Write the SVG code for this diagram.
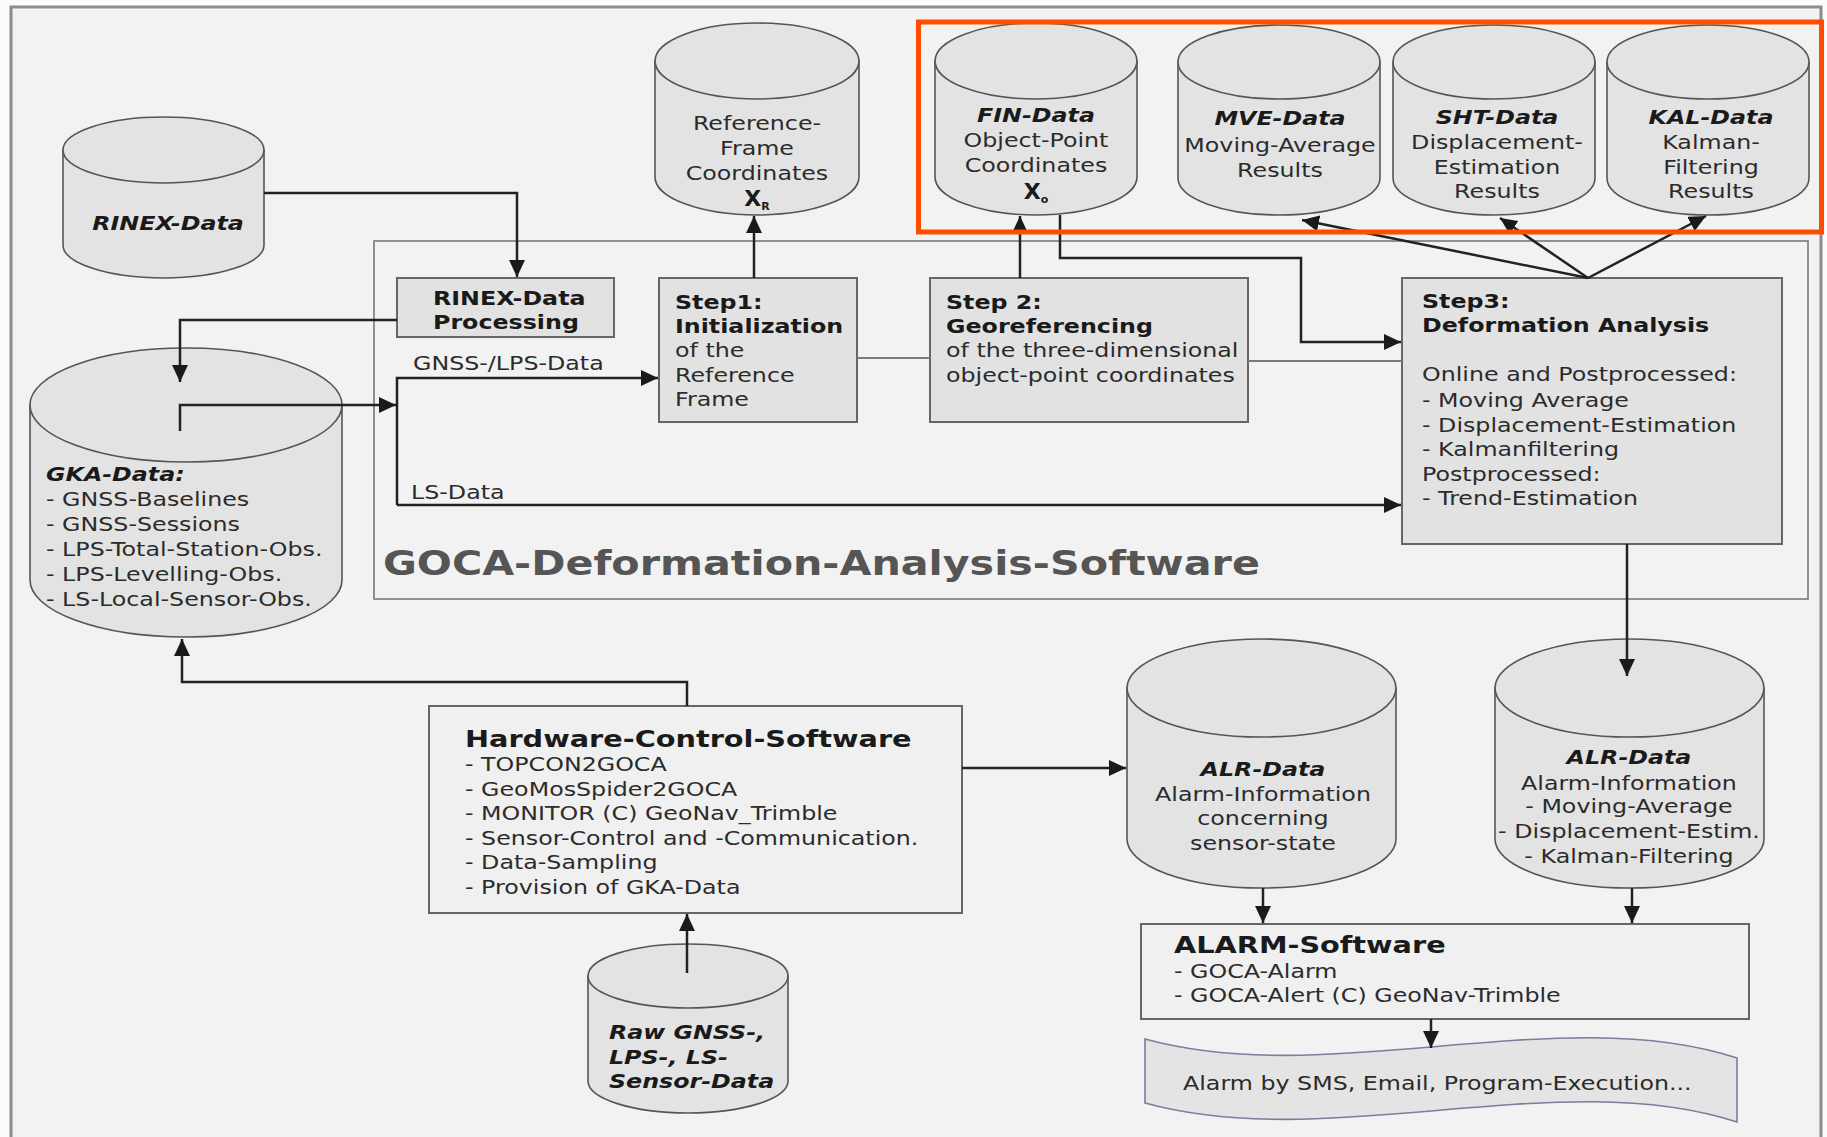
<svg xmlns="http://www.w3.org/2000/svg" width="1827" height="1137" viewBox="0 0 1827 1137">
<defs>
<marker id="ah" viewBox="0 0 17 16" refX="17" refY="8" markerWidth="17" markerHeight="16" markerUnits="userSpaceOnUse" orient="auto"><path d="M0,0 L17,8 L0,16 z" fill="#1a1a1a"/></marker>
<style>
text{font-family:"DejaVu Sans",Verdana,sans-serif;font-size:19px;fill:#2b2b2b}
.b{font-weight:bold;fill:#1a1a1a}
.bi{font-weight:bold;font-style:italic;fill:#1a1a1a}
.c{text-anchor:middle}
.box{fill:#e2e2e2;stroke:#666;stroke-width:2}
.boxl{fill:#f0f0f0;stroke:#666;stroke-width:2}
.cyl{fill:#e3e3e3;stroke:#555;stroke-width:1.6}
.ln{fill:none;stroke:#222;stroke-width:2.5}
.gl{fill:none;stroke:#7a7a7a;stroke-width:2}
.big{font-size:23px}
.ttl{font-size:33px;font-weight:bold;fill:#555}
.sub{font-size:11px;font-weight:bold}
.xv{font-size:22px;font-weight:bold;fill:#1a1a1a}
</style>
</defs>
<rect x="0" y="0" width="1827" height="1137" fill="#fbfbfb"/>
<path d="M11,1140 V7 H1821 V1140 Z" fill="#f2f2f2" stroke="#8c8c8c" stroke-width="3"/>

<g id="goca-frame">
<rect x="374" y="241" width="1434" height="358" fill="none" stroke="#777" stroke-width="1.6"/>
<g transform="matrix(1.25 0 0 1 -95.75 0)"><text class="ttl" x="383" y="575">GOCA-Deformation-Analysis-Software</text></g>
</g>

<g id="rinex-data">
<path class="cyl" d="M63,150 V245 A100.5,33 0 0 0 264,245 V150 Z"/>
<ellipse class="cyl" cx="163.5" cy="150" rx="100.5" ry="33"/>
<g transform="matrix(1.25 0 0 1 -42 0)"><text class="bi c" x="168" y="230">RINEX-Data</text></g>
</g>

<g id="ref-frame">
<path class="cyl" d="M655,61 V177 A102,38 0 0 0 859,177 V61 Z"/>
<ellipse class="cyl" cx="757" cy="61" rx="102" ry="38"/>
<g transform="matrix(1.25 0 0 1 -189.25 0)">
<text class="c" x="757" y="130">Reference-</text>
<text class="c" x="757" y="155">Frame</text>
<text class="c" x="757" y="180">Coordinates</text>
</g>
<text class="xv c" x="757" y="206">X<tspan class="sub" dy="4">R</tspan></text>
</g>

<g id="fin-data">
<path class="cyl" d="M935,61 V177 A101,38 0 0 0 1137,177 V61 Z"/>
<ellipse class="cyl" cx="1036" cy="61" rx="101" ry="38"/>
<g transform="matrix(1.25 0 0 1 -259 0)">
<text class="bi c" x="1036" y="122">FIN-Data</text>
<text class="c" x="1036" y="147">Object-Point</text>
<text class="c" x="1036" y="172">Coordinates</text>
</g>
<text class="xv c" x="1036" y="199">X<tspan class="sub" dy="4">o</tspan></text>
</g>

<g id="mve-data">
<path class="cyl" d="M1178,62 V178 A101,37 0 0 0 1380,178 V62 Z"/>
<ellipse class="cyl" cx="1279" cy="62" rx="101" ry="37"/>
<g transform="matrix(1.25 0 0 1 -320 0)">
<text class="bi c" x="1280" y="125">MVE-Data</text>
<text class="c" x="1280" y="152">Moving-Average</text>
<text class="c" x="1280" y="177">Results</text>
</g>
</g>

<g id="sht-data">
<path class="cyl" d="M1393,62 V178 A101,37 0 0 0 1595,178 V62 Z"/>
<ellipse class="cyl" cx="1494" cy="62" rx="101" ry="37"/>
<g transform="matrix(1.25 0 0 1 -374.25 0)">
<text class="bi c" x="1497" y="124">SHT-Data</text>
<text class="c" x="1497" y="149">Displacement-</text>
<text class="c" x="1497" y="174">Estimation</text>
<text class="c" x="1497" y="198">Results</text>
</g>
</g>

<g id="kal-data">
<path class="cyl" d="M1607,62 V178 A101,37 0 0 0 1809,178 V62 Z"/>
<ellipse class="cyl" cx="1708" cy="62" rx="101" ry="37"/>
<g transform="matrix(1.25 0 0 1 -427.75 0)">
<text class="bi c" x="1711" y="124">KAL-Data</text>
<text class="c" x="1711" y="149">Kalman-</text>
<text class="c" x="1711" y="174">Filtering</text>
<text class="c" x="1711" y="198">Results</text>
</g>
</g>

<g id="gka-data">
<path class="cyl" d="M30,405 V580 A156,57 0 0 0 342,580 V405 Z"/>
<ellipse class="cyl" cx="186" cy="405" rx="156" ry="57"/>
<g transform="matrix(1.25 0 0 1 -11.5 0)">
<text class="bi" x="46" y="481">GKA-Data:</text>
<text x="46" y="506">- GNSS-Baselines</text>
<text x="46" y="531">- GNSS-Sessions</text>
<text x="46" y="556">- LPS-Total-Station-Obs.</text>
<text x="46" y="581">- LPS-Levelling-Obs.</text>
<text x="46" y="606">- LS-Local-Sensor-Obs.</text>
</g>
</g>

<g id="raw-data">
<path class="cyl" d="M588,976 V1081 A100,32 0 0 0 788,1081 V976 Z"/>
<ellipse class="cyl" cx="688" cy="976" rx="100" ry="32"/>
<g transform="matrix(1.25 0 0 1 -152.25 0)">
<text class="bi" x="609" y="1039">Raw GNSS-,</text>
<text class="bi" x="609" y="1064">LPS-, LS-</text>
<text class="bi" x="609" y="1088">Sensor-Data</text>
</g>
</g>

<g id="alr-sensor">
<path class="cyl" d="M1127,688 V839 A134.5,49 0 0 0 1396,839 V688 Z"/>
<ellipse class="cyl" cx="1261.5" cy="688" rx="134.5" ry="49"/>
<g transform="matrix(1.25 0 0 1 -315.75 0)">
<text class="bi c" x="1263" y="776">ALR-Data</text>
<text class="c" x="1263" y="801">Alarm-Information</text>
<text class="c" x="1263" y="825">concerning</text>
<text class="c" x="1263" y="850">sensor-state</text>
</g>
</g>

<g id="alr-analysis">
<path class="cyl" d="M1495,688 V839 A134.5,49 0 0 0 1764,839 V688 Z"/>
<ellipse class="cyl" cx="1629.5" cy="688" rx="134.5" ry="49"/>
<g transform="matrix(1.25 0 0 1 -407.25 0)">
<text class="bi c" x="1629" y="764">ALR-Data</text>
<text class="c" x="1629" y="790">Alarm-Information</text>
<text class="c" x="1629" y="813">- Moving-Average</text>
<text class="c" x="1629" y="838">- Displacement-Estim.</text>
<text class="c" x="1629" y="863">- Kalman-Filtering</text>
</g>
</g>

<g id="rinex-processing">
<rect class="box" x="397" y="278" width="217" height="59"/>
<g transform="matrix(1.25 0 0 1 -108.25 0)">
<text class="b" x="433" y="305">RINEX-Data</text>
<text class="b" x="433" y="329">Processing</text>
</g>
</g>

<g id="step1">
<rect class="box" x="659" y="278" width="198" height="144"/>
<g transform="matrix(1.25 0 0 1 -168.75 0)">
<text class="b" x="675" y="309">Step1:</text>
<text class="b" x="675" y="333">Initialization</text>
<text x="675" y="357">of the</text>
<text x="675" y="382">Reference</text>
<text x="675" y="406">Frame</text>
</g>
</g>

<g id="step2">
<rect class="box" x="930" y="278" width="318" height="144"/>
<g transform="matrix(1.25 0 0 1 -236.5 0)">
<text class="b" x="946" y="309">Step 2:</text>
<text class="b" x="946" y="333">Georeferencing</text>
<text x="946" y="357">of the three-dimensional</text>
<text x="946" y="382">object-point coordinates</text>
</g>
</g>

<g id="step3">
<rect class="box" x="1402" y="278" width="380" height="266"/>
<g transform="matrix(1.25 0 0 1 -355.5 0)">
<text class="b" x="1422" y="308">Step3:</text>
<text class="b" x="1422" y="332">Deformation Analysis</text>
<text x="1422" y="381">Online and Postprocessed:</text>
<text x="1422" y="407">- Moving Average</text>
<text x="1422" y="432">- Displacement-Estimation</text>
<text x="1422" y="456">- Kalmanfiltering</text>
<text x="1422" y="481">Postprocessed:</text>
<text x="1422" y="505">- Trend-Estimation</text>
</g>
</g>

<g id="hardware-control">
<rect class="boxl" x="429" y="706" width="533" height="207"/>
<g transform="matrix(1.25 0 0 1 -116.25 0)">
<text class="b big" x="465" y="747">Hardware-Control-Software</text>
<text x="465" y="771">- TOPCON2GOCA</text>
<text x="465" y="796">- GeoMosSpider2GOCA</text>
<text x="465" y="820">- MONITOR (C) GeoNav_Trimble</text>
<text x="465" y="845">- Sensor-Control and -Communication.</text>
<text x="465" y="869">- Data-Sampling</text>
<text x="465" y="894">- Provision of GKA-Data</text>
</g>
</g>

<g id="alarm-software">
<rect class="boxl" x="1141" y="924" width="608" height="95"/>
<g transform="matrix(1.25 0 0 1 -293.5 0)">
<text class="b big" x="1174" y="953">ALARM-Software</text>
<text x="1174" y="978">- GOCA-Alarm</text>
<text x="1174" y="1002">- GOCA-Alert (C) GeoNav-Trimble</text>
</g>
</g>

<g id="alarm-output">
<path d="M1145,1039 C1330,1090 1560,1000 1737,1058 V1122 C1560,1064 1330,1154 1145,1103 Z" fill="#e4e4e4" stroke="#7c7c9c" stroke-width="1.6"/>
<g transform="matrix(1.25 0 0 1 -295.75 0)"><text x="1183" y="1090">Alarm by SMS, Email, Program-Execution...</text></g>
</g>

<g id="connectors">
<path class="gl" d="M857,358 H930"/>
<path class="gl" d="M1248,361 H1402"/>
<path class="ln" d="M264,193 H517 V277" marker-end="url(#ah)"/>
<path class="ln" d="M397,320 H180 V382" marker-end="url(#ah)"/>
<path class="ln" d="M180,431 V405 H396" marker-end="url(#ah)"/>
<path class="ln" d="M397,505 V378 H658" marker-end="url(#ah)"/>
<path class="ln" d="M397,505 H1401" marker-end="url(#ah)"/>
<path class="ln" d="M754,278 V216" marker-end="url(#ah)"/>
<path class="ln" d="M1020,278 V216" marker-end="url(#ah)"/>
<path class="ln" d="M1060,215 V258 H1301 V342 H1401" marker-end="url(#ah)"/>
<path class="ln" d="M1588,278 L1302,220" marker-end="url(#ah)"/>
<path class="ln" d="M1588,278 L1500,218" marker-end="url(#ah)"/>
<path class="ln" d="M1588,278 L1706,216" marker-end="url(#ah)"/>
<path class="ln" d="M1627,544 V676" marker-end="url(#ah)"/>
<path class="ln" d="M687,706 V682 H182 V639" marker-end="url(#ah)"/>
<path class="ln" d="M687,973 V914" marker-end="url(#ah)"/>
<path class="ln" d="M962,768 H1126" marker-end="url(#ah)"/>
<path class="ln" d="M1263,888 V923" marker-end="url(#ah)"/>
<path class="ln" d="M1632,888 V923" marker-end="url(#ah)"/>
<path class="ln" d="M1431,1019 V1048" marker-end="url(#ah)"/>
<g transform="matrix(1.25 0 0 1 -103.25 0)"><text x="413" y="370">GNSS-/LPS-Data</text></g>
<g transform="matrix(1.25 0 0 1 -102.75 0)"><text x="411" y="499">LS-Data</text></g>
</g>

<rect id="highlight" x="918.5" y="22" width="903" height="210" fill="none" stroke="#ff4d00" stroke-width="5"/>
</svg>
